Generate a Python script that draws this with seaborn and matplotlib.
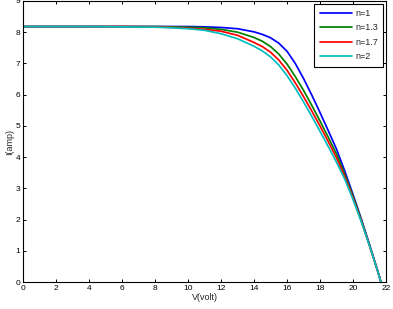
import numpy as np
import pandas as pd
import matplotlib
matplotlib.use("Agg")
import matplotlib.pyplot as plt
import seaborn as sns

# --- data (I-V curves for different ideality factors) ---
voltage = [0, 2, 4, 6, 8, 9, 10, 11, 12, 13, 14, 14.5, 15, 15.5, 16, 16.5,
           17, 17.5, 18, 18.5, 19, 19.5, 20, 20.5, 21, 21.5, 21.7]

i_n1 = [8.18, 8.18, 8.18, 8.18, 8.18, 8.18, 8.18, 8.17, 8.15, 8.11, 8.01, 7.93,
        7.82, 7.65, 7.39, 7.00, 6.52, 5.99, 5.43, 4.85, 4.26, 3.56, 2.81, 2.03,
        1.21, 0.36, 0.0]
i_n13 = [8.18, 8.18, 8.18, 8.18, 8.18, 8.17, 8.16, 8.14, 8.09, 8.00, 7.83, 7.71,
         7.54, 7.30, 6.98, 6.58, 6.14, 5.66, 5.16, 4.64, 4.10, 3.46, 2.76, 2.00,
         1.19, 0.35, 0.0]
i_n17 = [8.18, 8.18, 8.18, 8.18, 8.17, 8.15, 8.13, 8.09, 8.03, 7.90, 7.67, 7.54,
         7.36, 7.11, 6.78, 6.38, 5.94, 5.48, 5.00, 4.50, 3.98, 3.38, 2.70, 1.96,
         1.17, 0.35, 0.0]
i_n2 = [8.18, 8.18, 8.18, 8.17, 8.16, 8.14, 8.11, 8.06, 7.95, 7.79, 7.55, 7.40,
        7.21, 6.95, 6.61, 6.21, 5.77, 5.31, 4.83, 4.34, 3.84, 3.30, 2.65, 1.94,
        1.17, 0.35, 0.0]

labels = ["n=1", "n=1.3", "n=1.7", "n=2"]
colors = ["#0000ff", "#008000", "#ff0000", "#00bfbf"]

x_ticks = list(range(0, 23, 2))
y_ticks = list(range(0, 10))

# --- build long table for seaborn ---
frames = []
for lab, vals in zip(labels, [i_n1, i_n13, i_n17, i_n2]):
    frames.append(pd.DataFrame({"V": voltage, "I": vals, "curve": lab}))
df = pd.concat(frames, ignore_index=True)

# --- style ---
sns.set_style("ticks")
plt.rcParams["font.family"] = ["Liberation Sans", "DejaVu Sans"]
plt.rcParams["axes.linewidth"] = 0.8
plt.rcParams["xtick.direction"] = "in"
plt.rcParams["ytick.direction"] = "in"

fig = plt.figure(figsize=(3.93, 3.09), dpi=100)
ax = fig.add_axes([0.059, 0.087, 0.923, 0.91])

sns.lineplot(data=df, x="V", y="I", hue="curve", hue_order=labels,
             palette=dict(zip(labels, colors)), linewidth=1.25, sort=False,
             estimator=None, ax=ax)

ax.set_xlim(0, 22)
ax.set_ylim(0, 9)
ax.set_xticks(x_ticks)
ax.set_yticks(y_ticks)
ax.tick_params(labelsize=6, length=2.5, width=0.7, pad=2,
               top=True, right=True, colors="black")
for sp in ax.spines.values():
    sp.set_visible(True)
    sp.set_color("black")

ax.set_xlabel("V(volt)", fontsize=6.5, labelpad=1)
ax.set_ylabel("I(amp)", fontsize=6.5, labelpad=1)

handles, _ = ax.get_legend_handles_labels()
leg = ax.legend(handles=handles, labels=labels, loc="upper right",
                fontsize=6.5, frameon=True, fancybox=False, framealpha=1,
                edgecolor="black", handlelength=3.6, handletextpad=0.3,
                labelspacing=0.6, borderpad=0.6, borderaxespad=0.3)
leg.get_frame().set_linewidth(0.8)

plt.savefig("out.png", dpi=100)
plt.close()
